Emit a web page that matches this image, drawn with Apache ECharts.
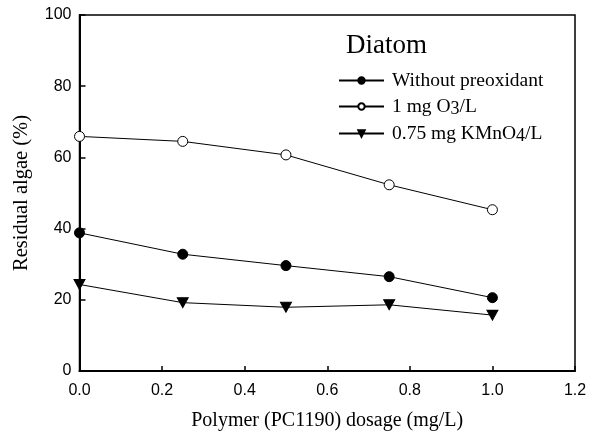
<!DOCTYPE html>
<html><head><meta charset="utf-8">
<script src="https://cdn.jsdelivr.net/npm/echarts@6/dist/echarts.min.js"></script>
<style>html,body{margin:0;padding:0;background:#fff}#c{width:597px;height:437px}</style>
</head><body><div id="c"></div>
<script>
const dosage = [0, 0.25, 0.5, 0.75, 1.0];
const withoutPreox = [38.8, 32.8, 29.6, 26.5, 20.6];
const ozone = [65.9, 64.5, 60.7, 52.3, 45.3];
const kmno4 = [24.3, 19.2, 17.9, 18.6, 15.7];
const seriesNames = ['Without preoxidant', '1 mg O3/L', '0.75 mg KMnO4/L'];
const xTicks = [0, 0.2, 0.4, 0.6, 0.8, 1.0, 1.2];
const yTicks = [0, 20, 40, 60, 80, 100];

const pair = (ys) => dosage.map((x, i) => [x, ys[i]]);
const serif = '"Liberation Serif", "Times New Roman", serif';
const sans = '"Liberation Sans", Arial, sans-serif';

const chart = echarts.init(document.getElementById('c'));
chart.setOption({
  animation: false,
  backgroundColor: '#fff',
  grid: { left: 79.5, right: 22, top: 15, bottom: 66, show: true, borderColor: '#000', borderWidth: 1.5, backgroundColor: 'transparent' },
  title: { text: 'Diatom', left: 341, top: 27, textStyle: { fontFamily: serif, fontSize: 27, fontWeight: 'normal', color: '#000' } },
  legend: {
    orient: 'vertical', left: 333, top: 65, itemGap: 4, itemWidth: 45, itemHeight: 8,
    data: seriesNames,
    formatter: (n) => n === '1 mg O3/L' ? '1 mg O{sub|3}/L' : (n === '0.75 mg KMnO4/L' ? '0.75 mg KMnO{sub|4}/L' : n),
    textStyle: { fontFamily: serif, fontSize: 19.5, color: '#000', lineHeight: 21, padding: [0, 0, 0, 3],
      rich: { sub: { fontFamily: serif, fontSize: 18, color: '#000', lineHeight: 21, padding: [5, 0, 0, 0] } } }
  },
  xAxis: {
    type: 'value', min: 0, max: 1.2, interval: 0.2,
    name: 'Polymer (PC1190) dosage (mg/L)', nameLocation: 'middle', nameGap: 40,
    nameTextStyle: { fontFamily: serif, fontSize: 20, color: '#000' },
    axisLine: { lineStyle: { color: '#000', width: 2 } },
    axisTick: { inside: true, length: 5, lineStyle: { color: '#000', width: 1.5 } },
    axisLabel: { fontFamily: sans, fontSize: 16, color: '#000', margin: 12, formatter: (v) => v.toFixed(1) },
    splitLine: { show: false }
  },
  yAxis: {
    type: 'value', min: 0, max: 100, interval: 20,
    name: 'Residual algae (%)', nameLocation: 'middle', nameGap: 47,
    nameTextStyle: { fontFamily: serif, fontSize: 20.5, color: '#000' },
    axisLine: { lineStyle: { color: '#000', width: 2 } },
    axisTick: { inside: true, length: 6, lineStyle: { color: '#000', width: 1.5 } },
    axisLabel: { fontFamily: sans, fontSize: 16, color: '#000', margin: 8 },
    splitLine: { show: false }
  },
  series: [
    { name: seriesNames[0], type: 'line', data: pair(withoutPreox), symbol: 'circle', symbolSize: 10,
      itemStyle: { color: '#000', borderColor: '#000', borderWidth: 1 }, lineStyle: { color: '#000', width: 1 } },
    { name: seriesNames[1], type: 'line', data: pair(ozone), symbol: 'circle', symbolSize: 10,
      itemStyle: { color: '#fff', borderColor: '#000', borderWidth: 1 }, lineStyle: { color: '#000', width: 1 } },
    { name: seriesNames[2], type: 'line', data: pair(kmno4), symbol: 'triangle', symbolRotate: 180, symbolSize: [11, 10],
      itemStyle: { color: '#000', borderColor: '#000', borderWidth: 1 }, lineStyle: { color: '#000', width: 1 } }
  ]
});
</script></body></html>
